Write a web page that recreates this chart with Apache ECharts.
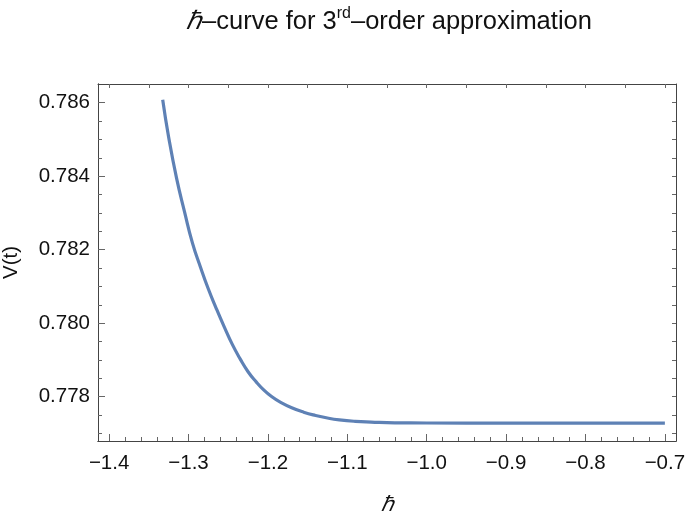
<!DOCTYPE html>
<html>
<head>
<meta charset="utf-8">
<script src="https://cdn.jsdelivr.net/npm/echarts@6/dist/echarts.min.js"></script>
<style>html,body{margin:0;padding:0;background:#fff}#c{width:685px;height:513px}</style>
</head>
<body>
<div id="c"></div>
<script>
// data
const hbar = [-1.3325, -1.3250, -1.3150, -1.3050, -1.2950, -1.2850, -1.2750, -1.2650, -1.2550, -1.2450, -1.2350, -1.2250, -1.2150, -1.2050, -1.1950, -1.1850, -1.1700, -1.1550, -1.1400, -1.1250, -1.1100, -1.0900, -1.0700, -1.0400, -1.0000, -0.9000, -0.8000, -0.7000];
const vt = [0.78608, 0.78506, 0.78394, 0.78303, 0.78218, 0.78153, 0.78093, 0.78040, 0.77990, 0.77943, 0.77903, 0.77868, 0.77841, 0.77818, 0.77800, 0.77786, 0.77770, 0.77758, 0.77749, 0.77742, 0.77737, 0.77733, 0.77731, 0.77729, 0.777285, 0.77728, 0.77728, 0.77728];
const xTickLabels = [-1.4, -1.3, -1.2, -1.1, -1.0, -0.9, -0.8, -0.7];
const yTickLabels = [0.778, 0.780, 0.782, 0.784, 0.786];
const xMinorTicks = [-1.40,-1.38,-1.36,-1.34,-1.32,-1.30,-1.28,-1.26,-1.24,-1.22,-1.20,-1.18,-1.16,-1.14,-1.12,-1.10,-1.08,-1.06,-1.04,-1.02,-1.00,-0.98,-0.96,-0.94,-0.92,-0.90,-0.88,-0.86,-0.84,-0.82,-0.80,-0.78,-0.76,-0.74,-0.72,-0.70];
const xTopTicks = [-1.40,-1.35,-1.30,-1.25,-1.20,-1.15,-1.10,-1.05,-1.00,-0.95,-0.90,-0.85,-0.80,-0.75,-0.70];
const yMinorTicks = [0.777,0.7775,0.778,0.7785,0.779,0.7795,0.780,0.7805,0.781,0.7815,0.782,0.7825,0.783,0.7835,0.784,0.7845,0.785,0.7855,0.786];

const XMIN = -1.414, XMAX = -0.686, YMIN = 0.776795, YMAX = 0.786509;
const FONT = 'Liberation Sans, Arial, sans-serif';
const frame = '#444';
const tickC = '#666';
const txt = '#111';
const minus = s => s.replace('-', '\u2212');

function xAx(extra) {
  return Object.assign({
    type: 'value', min: XMIN, max: XMAX,
    axisLine: { show: true, onZero: false, lineStyle: { color: frame, width: 1 } },
    splitLine: { show: false },
    axisLabel: { show: false },
    axisTick: { show: false }
  }, extra);
}
function yAx(extra) {
  return Object.assign({
    type: 'value', min: YMIN, max: YMAX,
    axisLine: { show: true, onZero: false, lineStyle: { color: frame, width: 1 } },
    splitLine: { show: false },
    axisLabel: { show: false },
    axisTick: { show: false }
  }, extra);
}

const chart = echarts.init(document.getElementById('c'), null, { renderer: 'canvas' });
chart.setOption({
  animation: false,
  backgroundColor: '#fff',
  title: {
    text: '{i|\u210F}\u2013curve for 3{sup|rd}\u2013order approximation',
    left: 384, top: 1, textAlign: 'center',
    textStyle: {
      fontFamily: FONT, fontSize: 25.5, fontWeight: 'normal', color: txt,
      rich: {
        i: { fontFamily: FONT, fontSize: 25.5, fontStyle: 'italic', color: txt },
        sup: { fontFamily: FONT, fontSize: 16, color: txt, padding: [0, 0, 15, 0] }
      }
    }
  },
  grid: { left: 98, right: 9, top: 84, bottom: 72, containLabel: false, outerBoundsMode: 'none' },
  xAxis: [
    xAx({
      position: 'bottom',
      name: '\u210F', nameLocation: 'middle', nameGap: 54,
      nameTextStyle: { fontFamily: FONT, fontSize: 21, fontStyle: 'italic', color: txt },
      axisLabel: { show: true, customValues: xTickLabels, margin: 12, fontFamily: FONT, fontSize: 20.5, color: txt,
        formatter: v => minus(v.toFixed(1)) },
      axisTick: { show: true, inside: true, length: 7, customValues: xTickLabels, lineStyle: { color: tickC } }
    }),
    xAx({
      position: 'bottom',
      axisTick: { show: true, inside: true, length: 4, customValues: xMinorTicks, lineStyle: { color: tickC } }
    }),
    xAx({
      position: 'top',
      axisTick: { show: true, inside: true, length: 4, customValues: xTopTicks, lineStyle: { color: tickC } }
    })
  ],
  yAxis: [
    yAx({
      position: 'left',
      name: 'V(t)', nameLocation: 'middle', nameGap: 76, nameRotate: 90,
      nameTextStyle: { fontFamily: FONT, fontSize: 20.5, color: txt },
      axisLabel: { show: true, customValues: yTickLabels, margin: 8, fontFamily: FONT, fontSize: 20.5, color: txt,
        formatter: v => v.toFixed(3) },
      axisTick: { show: true, inside: true, length: 7, customValues: yTickLabels, lineStyle: { color: tickC } }
    }),
    yAx({
      position: 'left',
      axisTick: { show: true, inside: true, length: 4, customValues: yMinorTicks.filter(v => v > YMIN && v < YMAX), lineStyle: { color: tickC } }
    }),
    yAx({
      position: 'right',
      axisTick: { show: true, inside: true, length: 4, customValues: yMinorTicks.filter(v => v > YMIN && v < YMAX), lineStyle: { color: tickC } }
    })
  ],
  series: [{
    type: 'line',
    xAxisIndex: 0, yAxisIndex: 0,
    data: hbar.map((x, i) => [x, vt[i]]),
    smooth: 0.5,
    showSymbol: false,
    lineStyle: { color: '#5E81B5', width: 3.2 },
    clip: true
  }]
});
</script>
</body>
</html>
